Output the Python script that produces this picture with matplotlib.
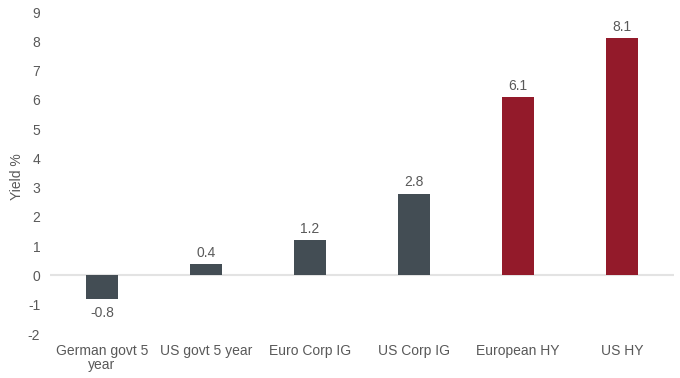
import numpy as np
import matplotlib
matplotlib.use("Agg")
import matplotlib.pyplot as plt

# ------------ DATA ------------

CATEGORIES = ["German govt 5\nyear", "US govt 5 year", "Euro Corp IG",
              "US Corp IG", "European HY", "US HY"]
YIELDS = [-0.8, 0.4, 1.2, 2.8, 6.1, 8.1]
IS_HIGH_YIELD = [False, False, False, False, True, True]
Y_TICKS = list(range(-2, 10))

# ------------ STYLE ------------

GREY_BAR = "#434d54"
RED_BAR = "#931a2a"
TEXT_COLOR = "#595959"
ZERO_LINE = "#e3e3e3"

plt.rcParams["font.family"] = ["Liberation Sans", "DejaVu Sans"]


def main() -> None:
    fig = plt.figure(figsize=(6.8, 3.78), dpi=100)
    ax = fig.add_axes([0.0735, 0.1164, 0.9175, 0.8518])

    x = np.arange(len(CATEGORIES))
    colors = [RED_BAR if hy else GREY_BAR for hy in IS_HIGH_YIELD]
    bars = ax.bar(x, YIELDS, width=0.31, color=colors, zorder=3)

    ax.axhline(0, color=ZERO_LINE, linewidth=1.5, zorder=2)

    # value labels
    for bar, val in zip(bars, YIELDS):
        cx = bar.get_x() + bar.get_width() / 2
        if val >= 0:
            ax.annotate(f"{val:.1f}", (cx, val), xytext=(0, 3),
                        textcoords="offset points", ha="center", va="bottom",
                        fontsize=10, color=TEXT_COLOR)
        else:
            ax.annotate(f"{val:.1f}", (cx, val), xytext=(0, -5),
                        textcoords="offset points", ha="center", va="top",
                        fontsize=10, color=TEXT_COLOR)

    ax.set_xlim(-0.5, len(CATEGORIES) - 0.5)
    ax.set_ylim(-2, 9)
    ax.set_xticks(x)
    ax.set_xticklabels(CATEGORIES, fontsize=10, color=TEXT_COLOR, linespacing=1.0)
    ax.set_yticks(Y_TICKS)
    ax.set_yticklabels([str(t) for t in Y_TICKS], fontsize=10, color=TEXT_COLOR)
    ax.tick_params(axis="both", length=0)
    ax.tick_params(axis="x", pad=7)
    ax.tick_params(axis="y", pad=7)
    ax.set_ylabel("Yield %", fontsize=10, color=TEXT_COLOR)
    ax.yaxis.label.set_va("center")
    ax.yaxis.set_label_coords(-0.053, 0.49)

    for spine in ax.spines.values():
        spine.set_visible(False)

    fig.savefig("out.png", dpi=100, facecolor="white")


if __name__ == "__main__":
    main()
